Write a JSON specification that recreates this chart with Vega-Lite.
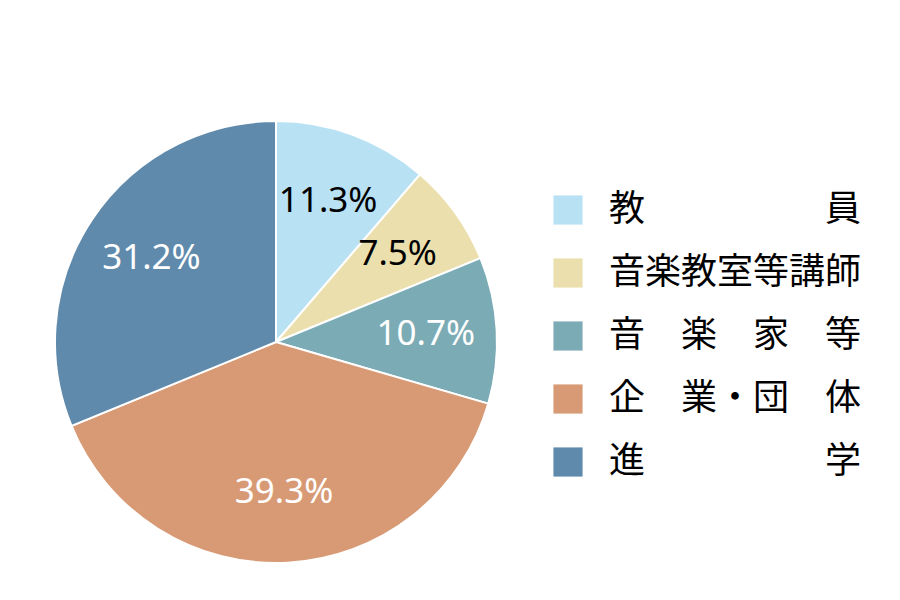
{
  "$schema": "https://vega.github.io/schema/vega-lite/v6.json",
  "width": 442,
  "height": 442,
  "autosize": {"type": "none"},
  "padding": {"left": 55, "top": 121, "right": 403, "bottom": 37},
  "background": "white",
  "config": {"view": {"stroke": null}},
  "data": {
    "values": [
      {"cat": "教　　　　　員", "value": 11.3, "label": "11.3%", "order": 1},
      {"cat": "音楽教室等講師", "value": 7.5, "label": "7.5%", "order": 2},
      {"cat": "音　楽　家　等", "value": 10.7, "label": "10.7%", "order": 3},
      {"cat": "企　業・団　体", "value": 39.3, "label": "39.3%", "order": 4},
      {"cat": "進　　　　　学", "value": 31.2, "label": "31.2%", "order": 5}
    ]
  },
  "encoding": {
    "theta": {"field": "value", "type": "quantitative", "stack": true},
    "order": {"field": "order", "type": "quantitative"}
  },
  "layer": [
    {
      "mark": {"type": "arc", "outerRadius": 221, "stroke": "white", "strokeWidth": 2},
      "encoding": {
        "color": {
          "field": "cat",
          "type": "nominal",
          "scale": {
            "domain": ["教　　　　　員", "音楽教室等講師", "音　楽　家　等", "企　業・団　体", "進　　　　　学"],
            "range": ["#b8e1f4", "#ebe0ad", "#7babb5", "#d79a75", "#608aab"]
          },
          "legend": {
            "title": null,
            "orient": "none",
            "legendX": 495,
            "legendY": 71,
            "symbolType": "square",
            "symbolSize": 850,
            "symbolStrokeWidth": 0,
            "labelFont": "Noto Sans CJK JP",
            "labelFontSize": 36,
            "labelColor": "black",
            "labelOffset": 23,
            "labelLimit": 400,
            "rowPadding": 27
          }
        }
      }
    },
    {
      "mark": {"type": "text", "radius": 150, "font": "Noto Sans", "fontSize": 35},
      "encoding": {
        "text": {"field": "label", "type": "nominal"},
        "color": {
          "condition": {"test": "datum.order <= 2", "value": "black"},
          "value": "white"
        }
      }
    }
  ]
}
